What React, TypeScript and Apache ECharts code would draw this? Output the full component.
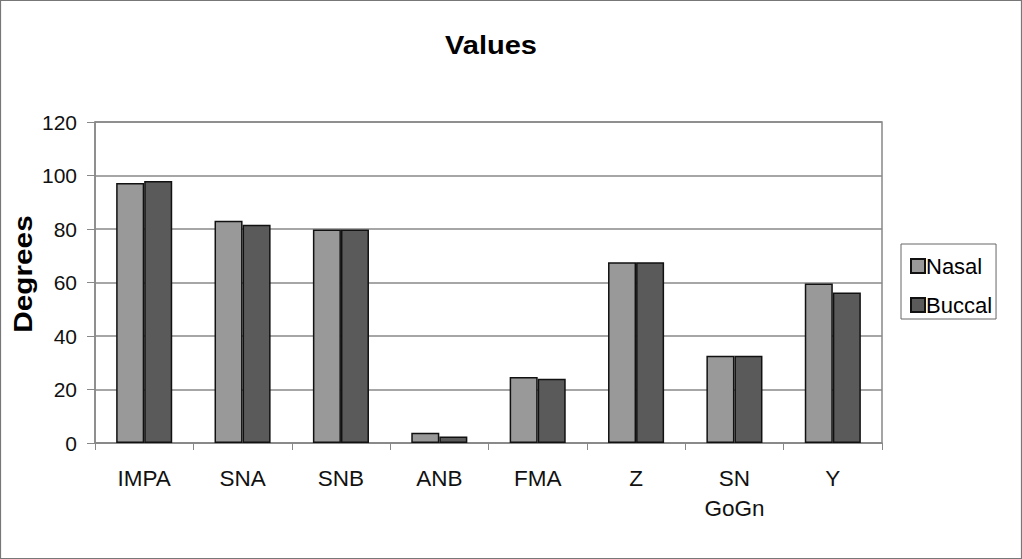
import React, { useEffect, useRef } from "react";
import * as echarts from "echarts";

const categories = ["IMPA", "SNA", "SNB", "ANB", "FMA", "Z", "SN\nGoGn", "Y"];
const nasal = [97.2, 83.1, 79.8, 3.8, 24.7, 67.6, 32.6, 59.6];
const buccal = [97.9, 81.6, 79.8, 2.4, 24.0, 67.6, 32.6, 56.3];
const yTicks = { min: 0, max: 120, interval: 20 };
const titleText = "Values";
const yAxisTitle = "Degrees";

export default function App() {
  const ref = useRef<HTMLDivElement>(null);
  useEffect(() => {
    if (!ref.current) return;
    const chart = echarts.init(ref.current, null, { renderer: "svg" });
    const font = "Arial, 'Liberation Sans', sans-serif";
    chart.setOption({
      animation: false,
      backgroundColor: "#ffffff",
      textStyle: { fontFamily: font },
      graphic: [
        {
          type: "rect",
          shape: { x: 0.5, y: 0.5, width: 1021, height: 558 },
          style: { fill: "none", stroke: "#777", lineWidth: 1.2 },
          silent: true,
        },
        {
          type: "text",
          x: 491,
          y: 45,
          scaleX: 1.16,
          style: {
            text: titleText,
            fontFamily: font,
            fontSize: 25,
            fontWeight: "bold",
            fill: "#000",
            align: "center",
            verticalAlign: "middle",
          },
          silent: true,
        },
        {
          type: "text",
          x: 23,
          y: 274,
          rotation: Math.PI / 2,
          scaleX: 1.19,
          style: {
            text: yAxisTitle,
            fontFamily: font,
            fontSize: 25,
            fontWeight: "bold",
            fill: "#000",
            align: "center",
            verticalAlign: "middle",
          },
          silent: true,
        },
      ],
      legend: {
        orient: "vertical",
        left: 901,
        top: 244,
        padding: [11, 4, 3, 9],
        itemGap: 17,
        itemWidth: 14,
        itemHeight: 14,
        borderColor: "#666",
        borderWidth: 1,
        icon: "rect",
        textStyle: { fontFamily: font, fontSize: 22, color: "#000", padding: [0, 0, 0, -4] },
        data: ["Nasal", "Buccal"],
      },
      grid: {
        left: 95,
        right: 140,
        top: 122,
        bottom: 116,
        show: true,
        borderColor: "#888",
        borderWidth: 1.5,
        containLabel: false,
      },
      xAxis: {
        type: "category",
        data: categories,
        axisLine: { lineStyle: { color: "#888", width: 1.5 } },
        axisTick: { show: true, length: 7, alignWithLabel: false, lineStyle: { color: "#888" } },
        axisLabel: {
          fontFamily: font,
          fontSize: 22.5,
          color: "#111",
          margin: 20,
          lineHeight: 30,
          interval: 0,
        },
      },
      yAxis: {
        type: "value",
        min: yTicks.min,
        max: yTicks.max,
        interval: yTicks.interval,
        axisLine: { show: true, lineStyle: { color: "#888", width: 1.5 } },
        axisTick: { show: true, length: 8, lineStyle: { color: "#888" } },
        axisLabel: { fontFamily: font, fontSize: 21, color: "#111", margin: 18 },
        splitLine: { show: true, lineStyle: { color: "#888", width: 1.5 } },
      },
      series: [
        {
          name: "Nasal",
          type: "bar",
          data: nasal,
          barGap: "0%",
          barCategoryGap: "43%",
          itemStyle: { color: "#999999", borderColor: "#111", borderWidth: 1.5 },
        },
        {
          name: "Buccal",
          type: "bar",
          data: buccal,
          barGap: "0%",
          barCategoryGap: "43%",
          itemStyle: { color: "#5a5a5a", borderColor: "#111", borderWidth: 1.5 },
        },
      ],
    });
    return () => chart.dispose();
  }, []);
  return (
    <div
      ref={ref}
      style={{ position: "fixed", left: 0, top: 0, width: 1022, height: 559 }}
    />
  );
}
